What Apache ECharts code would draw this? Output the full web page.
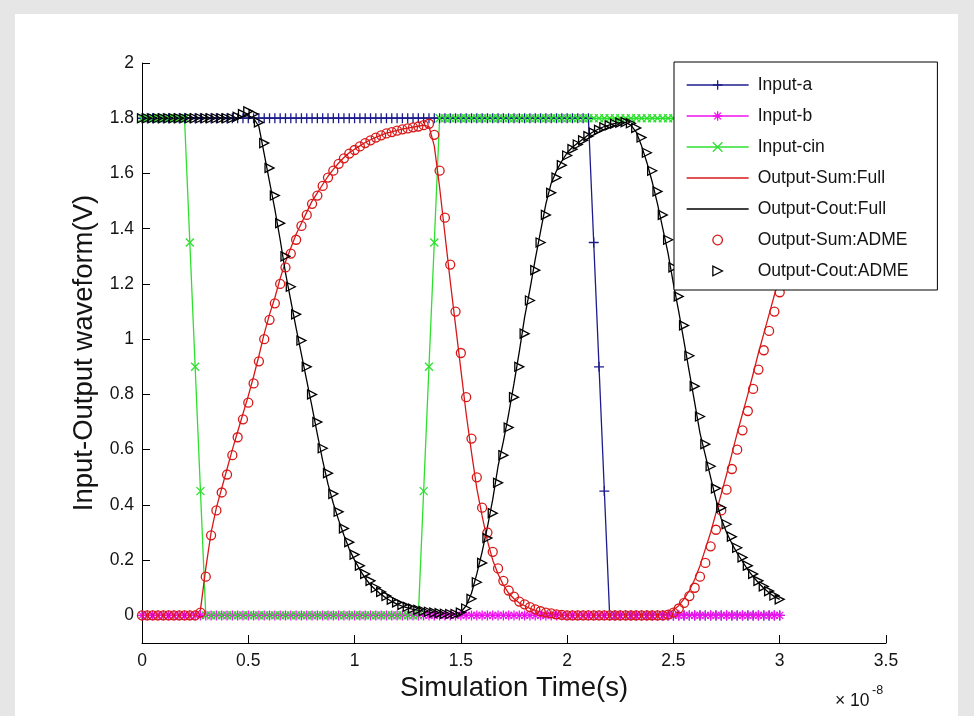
<!DOCTYPE html>
<html>
<head>
<meta charset="utf-8">
<script src="https://cdn.jsdelivr.net/npm/echarts@6/dist/echarts.min.js"></script>
<style>
html,body{margin:0;padding:0;background:#e6e6e6;width:974px;height:716px;overflow:hidden}
#panel{position:absolute;left:15px;top:14px;width:943px;height:702px;background:#fff}
#chart{position:absolute;left:0;top:0;width:974px;height:716px}
</style>
</head>
<body>
<div id="panel"></div>
<div id="chart"></div>
<script>
// time in units of 1e-8 s
const times = [
 0,0.025,0.05,0.075,0.1,0.125,0.15,0.175,
 0.2,0.225,0.25,0.275,0.3,0.325,0.35,0.375,
 0.4,0.425,0.45,0.475,0.5,0.525,0.55,0.575,
 0.6,0.625,0.65,0.675,0.7,0.725,0.75,0.775,
 0.8,0.825,0.85,0.875,0.9,0.925,0.95,0.975,
 1.0,1.025,1.05,1.075,1.1,1.125,1.15,1.175,
 1.2,1.225,1.25,1.275,1.3,1.325,1.35,1.375,
 1.4,1.425,1.45,1.475,1.5,1.525,1.55,1.575,
 1.6,1.625,1.65,1.675,1.7,1.725,1.75,1.775,
 1.8,1.825,1.85,1.875,1.9,1.925,1.95,1.975,
 2.0,2.025,2.05,2.075,2.1,2.125,2.15,2.175,
 2.2,2.225,2.25,2.275,2.3,2.325,2.35,2.375,
 2.4,2.425,2.45,2.475,2.5,2.525,2.55,2.575,
 2.6,2.625,2.65,2.675,2.7,2.725,2.75,2.775,
 2.8,2.825,2.85,2.875,2.9,2.925,2.95,2.975,
 3.0
];
const inputA = [
 1.8,1.8,1.8,1.8,1.8,1.8,1.8,1.8,
 1.8,1.8,1.8,1.8,1.8,1.8,1.8,1.8,
 1.8,1.8,1.8,1.8,1.8,1.8,1.8,1.8,
 1.8,1.8,1.8,1.8,1.8,1.8,1.8,1.8,
 1.8,1.8,1.8,1.8,1.8,1.8,1.8,1.8,
 1.8,1.8,1.8,1.8,1.8,1.8,1.8,1.8,
 1.8,1.8,1.8,1.8,1.8,1.8,1.8,1.8,
 1.8,1.8,1.8,1.8,1.8,1.8,1.8,1.8,
 1.8,1.8,1.8,1.8,1.8,1.8,1.8,1.8,
 1.8,1.8,1.8,1.8,1.8,1.8,1.8,1.8,
 1.8,1.8,1.8,1.8,1.8,1.35,0.9,0.45,
 0,0,0,0,0,0,0,0,
 0,0,0,0,0,0,0,0,
 0,0,0,0,0,0,0,0,
 0,0,0,0,0,0,0,0,
 0
];
const inputB = [
 0,0,0,0,0,0,0,0, 0,0,0,0,0,0,0,0, 0,0,0,0,0,0,0,0,
 0,0,0,0,0,0,0,0, 0,0,0,0,0,0,0,0, 0,0,0,0,0,0,0,0,
 0,0,0,0,0,0,0,0, 0,0,0,0,0,0,0,0, 0,0,0,0,0,0,0,0,
 0,0,0,0,0,0,0,0, 0,0,0,0,0,0,0,0, 0,0,0,0,0,0,0,0,
 0,0,0,0,0,0,0,0, 0,0,0,0,0,0,0,0, 0,0,0,0,0,0,0,0,
 0
];
const inputCin = [
 1.8,1.8,1.8,1.8,1.8,1.8,1.8,1.8,
 1.8,1.35,0.9,0.45,0,0,0,0,
 0,0,0,0,0,0,0,0,
 0,0,0,0,0,0,0,0,
 0,0,0,0,0,0,0,0,
 0,0,0,0,0,0,0,0,
 0,0,0,0,0,0.45,0.9,1.35,
 1.8,1.8,1.8,1.8,1.8,1.8,1.8,1.8,
 1.8,1.8,1.8,1.8,1.8,1.8,1.8,1.8,
 1.8,1.8,1.8,1.8,1.8,1.8,1.8,1.8,
 1.8,1.8,1.8,1.8,1.8,1.8,1.8,1.8,
 1.8,1.8,1.8,1.8,1.8,1.8,1.8,1.8,
 1.8,1.8,1.8,1.8,1.8,1.8,1.8,1.8,
 1.8,1.8,1.8,1.8,1.8,1.8,1.8,1.8,
 1.8,1.8,1.8,1.8,1.8,1.8,1.8,1.8,
 1.8
];
const sumFull = [
 0,0,0,0,0,0,0,0,
 0,0,0,0.02,0.17,0.30,0.39,0.46,
 0.53,0.60,0.665,0.73,0.795,0.865,0.94,1.02,
 1.09,1.15,1.22,1.28,1.33,1.38,1.42,1.46,
 1.50,1.53,1.56,1.59,1.615,1.638,1.658,1.675,
 1.688,1.70,1.712,1.722,1.731,1.739,1.746,1.751,
 1.756,1.761,1.764,1.768,1.771,1.775,1.77,1.70,
 1.55,1.38,1.21,1.05,0.89,0.73,0.59,0.46,
 0.36,0.27,0.20,0.15,0.11,0.08,0.06,0.045,
 0.035,0.025,0.018,0.012,0.008,0.005,0.003,0.001,
 0,0,0,0,0,0,0,0,
 0,0,0,0,0,0,0,0,
 0,0,0,0.005,0.02,0.035,0.06,0.09,
 0.13,0.18,0.24,0.30,0.37,0.44,0.51,0.585,
 0.66,0.73,0.80,0.875,0.95,1.02,1.09,1.16,
 1.23
];
const coutFull = [
 1.8,1.8,1.8,1.8,1.8,1.8,1.8,1.8,
 1.8,1.8,1.8,1.8,1.8,1.8,1.8,1.8,
 1.8,1.8,1.8,1.805,1.81,1.80,1.77,1.67,
 1.57,1.47,1.36,1.24,1.14,1.04,0.945,0.85,
 0.755,0.655,0.56,0.475,0.405,0.345,0.29,0.24,
 0.20,0.165,0.135,0.11,0.092,0.076,0.062,0.05,
 0.041,0.033,0.027,0.022,0.018,0.014,0.011,0.009,
 0.007,0.005,0.004,0.006,0.012,0.035,0.08,0.15,
 0.23,0.32,0.42,0.54,0.63,0.73,0.84,0.955,
 1.08,1.18,1.29,1.39,1.49,1.565,1.61,1.645,
 1.675,1.695,1.71,1.725,1.74,1.752,1.762,1.77,
 1.776,1.781,1.785,1.785,1.775,1.75,1.70,1.64,
 1.57,1.49,1.40,1.31,1.20,1.10,0.99,0.88,
 0.77,0.66,0.58,0.50,0.42,0.35,0.30,0.26,
 0.225,0.195,0.165,0.14,0.118,0.098,0.082,0.068,
 0.058
];
const sumAdme = [
 0,0,0,0,0,0,0,0,
 0,0,0,0.01,0.14,0.29,0.38,0.445,
 0.51,0.58,0.645,0.71,0.77,0.84,0.92,1.00,
 1.07,1.13,1.20,1.26,1.31,1.36,1.41,1.45,
 1.49,1.52,1.555,1.585,1.61,1.635,1.655,1.672,
 1.685,1.698,1.71,1.72,1.73,1.738,1.745,1.75,
 1.755,1.76,1.763,1.767,1.77,1.775,1.78,1.74,
 1.61,1.44,1.27,1.10,0.95,0.79,0.64,0.50,
 0.39,0.30,0.23,0.17,0.125,0.09,0.068,0.05,
 0.04,0.03,0.022,0.015,0.01,0.007,0.004,0.002,
 0,0,0,0,0,0,0,0,
 0,0,0,0,0,0,0,0,
 0,0,0,0.003,0.01,0.025,0.045,0.07,
 0.10,0.14,0.19,0.25,0.31,0.38,0.455,0.53,
 0.60,0.67,0.74,0.82,0.89,0.96,1.03,1.10,
 1.17
];
const coutAdme = [
 1.8,1.8,1.8,1.8,1.8,1.8,1.8,1.8,
 1.8,1.8,1.8,1.8,1.8,1.8,1.8,1.8,
 1.8,1.8,1.805,1.815,1.825,1.815,1.785,1.71,
 1.62,1.52,1.42,1.30,1.19,1.09,0.995,0.90,
 0.80,0.70,0.605,0.515,0.44,0.375,0.315,0.265,
 0.22,0.18,0.15,0.125,0.10,0.085,0.07,0.057,
 0.047,0.038,0.031,0.025,0.02,0.016,0.013,0.01,
 0.008,0.006,0.005,0.005,0.01,0.025,0.06,0.12,
 0.19,0.28,0.37,0.48,0.58,0.68,0.79,0.90,
 1.02,1.14,1.25,1.35,1.45,1.53,1.585,1.63,
 1.665,1.688,1.705,1.72,1.735,1.748,1.758,1.767,
 1.774,1.78,1.784,1.786,1.782,1.765,1.73,1.675,
 1.61,1.535,1.45,1.36,1.26,1.155,1.05,0.94,
 0.83,0.72,0.62,0.54,0.46,0.39,0.33,0.285,
 0.245,0.21,0.18,0.15,0.125,0.105,0.088,0.072,
 0.058
];
const seriesNames = ['Input-a','Input-b','Input-cin','Output-Sum:Full','Output-Cout:Full','Output-Sum:ADME','Output-Cout:ADME'];
const yTicks = [0,0.2,0.4,0.6,0.8,1,1.2,1.4,1.6,1.8,2];
const xTickStep = 0.5;

const FONT = '"Liberation Sans", Arial, sans-serif';
const TXT = '#141414';
const C_BLUE = '#1c1c8c', C_MAG = '#ee11ee', C_GREEN = '#2ee02e', C_RED = '#d81818', C_BLACK = '#000000';
const SYM_PLUS = 'path://M5,0L5,10M0,5L10,5';
const SYM_X = 'path://M0,0L10,10M10,0L0,10';
const SYM_STAR = 'path://M5,0L5,10M0,5L10,5M1.5,1.5L8.5,8.5M8.5,1.5L1.5,8.5';
const SYM_TRI = 'path://M0,0L10,5L0,10Z';
const LW = 1.3;

function pairs(vals){ return times.map((t,i)=>[t, vals[i]]); }

function lineSeries(name, vals, color, symbol, size, showLine){
  return {
    name, type:'line', data: pairs(vals),
    symbol: symbol || 'none', symbolSize: size || 0, showSymbol: !!symbol, showAllSymbol: true,
    lineStyle: {color: color, width: showLine ? LW : 0, opacity: showLine ? 1 : 0},
    itemStyle: {color: 'rgba(0,0,0,0)', borderColor: color, borderWidth: LW},
    emphasis: {disabled: true}, silent: true, animation: false, z: 2
  };
}

const legendItem = (name, color, hasLine, hasSym) => ({
  name,
  itemStyle: {color: 'rgba(0,0,0,0)', borderColor: hasSym ? color : 'rgba(0,0,0,0)', borderWidth: hasSym ? LW : 0},
  lineStyle: {color: hasLine ? color : 'rgba(0,0,0,0)', width: hasLine ? LW : 0}
});

const chart = echarts.init(document.getElementById('chart'), null, {renderer:'canvas'});
chart.setOption({
  backgroundColor: 'transparent',
  animation: false,
  grid: {left: 142, top: 63, right: 88, bottom: 73, containLabel: false},
  xAxis: {
    type: 'value', min: 0, max: 3.5, interval: xTickStep,
    axisLine: {onZero: false, lineStyle: {color: '#000', width: 1}},
    axisTick: {inside: true, length: 8, lineStyle: {color: '#000'}},
    axisLabel: {margin: 9, fontSize: 17.5, fontFamily: FONT, color: TXT},
    splitLine: {show: false},
    name: 'Simulation Time(s)', nameLocation: 'middle', nameGap: 28,
    nameTextStyle: {fontSize: 27.5, fontFamily: FONT, color: TXT}
  },
  yAxis: {
    type: 'value', min: -0.1, max: 2,
    axisLine: {show: true, onZero: false, lineStyle: {color: '#000', width: 1}},
    axisTick: {show: true, inside: true, length: 8, lineStyle: {color: '#000'}, customValues: yTicks},
    axisLabel: {margin: 8, fontSize: 17.5, fontFamily: FONT, color: TXT, customValues: yTicks},
    splitLine: {show: false},
    name: 'Input-Output waveform(V)', nameLocation: 'middle', nameGap: 44,
    nameTextStyle: {fontSize: 27.5, fontFamily: FONT, color: TXT}
  },
  legend: {
    orient: 'vertical', left: 674, top: 62,
    itemWidth: 62, itemHeight: 12, itemGap: 13,
    padding: [14, 29, 10, 12],
    backgroundColor: '#fff', borderColor: '#000', borderWidth: 1, borderRadius: 0,
    textStyle: {fontSize: 17.5, lineHeight: 17.5, fontFamily: FONT, color: TXT, padding: [0,0,0,4]},
    selectedMode: false,
    data: [
      legendItem(seriesNames[0], C_BLUE, true, true),
      legendItem(seriesNames[1], C_MAG, true, true),
      legendItem(seriesNames[2], C_GREEN, true, true),
      legendItem(seriesNames[3], C_RED, true, false),
      legendItem(seriesNames[4], C_BLACK, true, false),
      legendItem(seriesNames[5], C_RED, false, true),
      legendItem(seriesNames[6], C_BLACK, false, true)
    ]
  },
  graphic: [
    {type: 'text', left: 835, top: 692, style: {text: '× 10', fontSize: 17.5, fontFamily: FONT, fill: TXT}},
    {type: 'text', left: 872, top: 684, style: {text: '-8', fontSize: 12.5, fontFamily: FONT, fill: TXT}}
  ],
  series: [
    lineSeries(seriesNames[0], inputA, C_BLUE, SYM_PLUS, 10, true),
    lineSeries(seriesNames[1], inputB, C_MAG, SYM_STAR, 10, true),
    lineSeries(seriesNames[2], inputCin, C_GREEN, SYM_X, 8, true),
    lineSeries(seriesNames[3], sumFull, C_RED, null, 0, true),
    lineSeries(seriesNames[4], coutFull, C_BLACK, null, 0, true),
    lineSeries(seriesNames[5], sumAdme, C_RED, 'circle', 9, false),
    lineSeries(seriesNames[6], coutAdme, C_BLACK, SYM_TRI, 9, false)
  ]
});
</script>
</body>
</html>
